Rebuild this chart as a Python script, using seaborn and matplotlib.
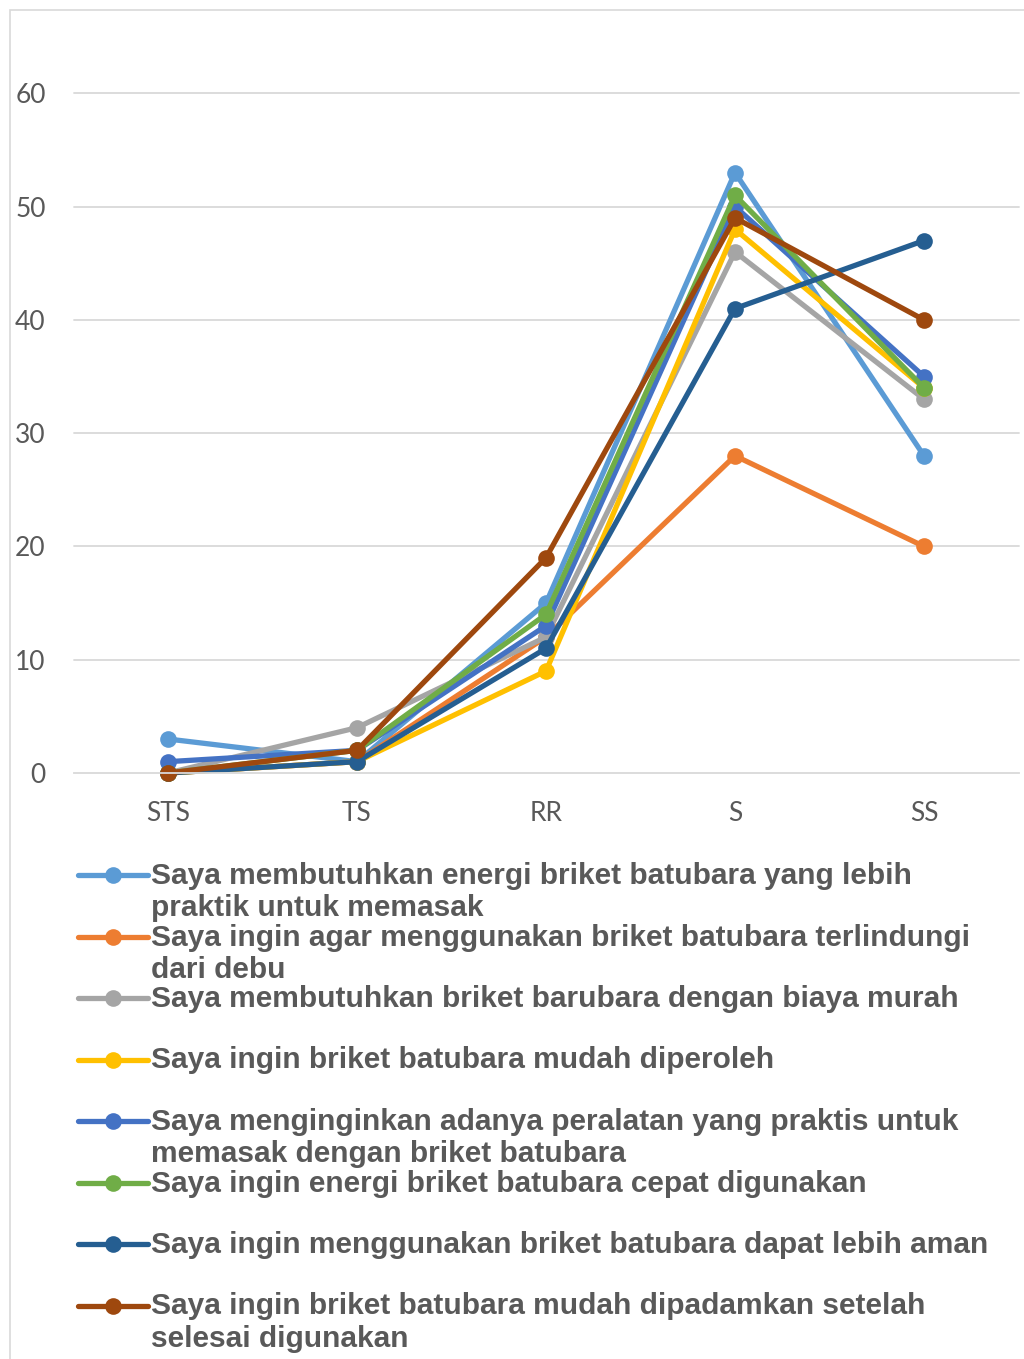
import matplotlib
matplotlib.use("Agg")
import matplotlib.pyplot as plt
import seaborn as sns
import pandas as pd
from matplotlib.lines import Line2D
from matplotlib.patches import Rectangle

# Skala Likert
kategori = ["STS", "TS", "RR", "S", "SS"]

# Pernyataan (label legenda, dengan pemenggalan baris)
pernyataan = [
    "Saya membutuhkan energi briket batubara yang lebih\npraktik untuk memasak",
    "Saya ingin agar menggunakan briket batubara terlindungi\ndari debu",
    "Saya membutuhkan briket barubara dengan biaya murah",
    "Saya ingin briket batubara mudah diperoleh",
    "Saya menginginkan adanya peralatan yang praktis untuk\nmemasak dengan briket batubara",
    "Saya ingin energi briket batubara cepat digunakan",
    "Saya ingin menggunakan briket batubara dapat lebih aman",
    "Saya ingin briket batubara mudah dipadamkan setelah\nselesai digunakan",
]

# Jumlah responden per kategori untuk tiap pernyataan
p1 = [3, 1, 15, 53, 28]
p2 = [0, 1, 12, 28, 20]
p3 = [0, 4, 12, 46, 33]
p4 = [0, 1, 9, 48, 34]
p5 = [1, 2, 13, 50, 35]
p6 = [0, 2, 14, 51, 34]
p7 = [0, 1, 11, 41, 47]
p8 = [0, 2, 19, 49, 40]
nilai = [p1, p2, p3, p4, p5, p6, p7, p8]

warna = ["#5B9BD5", "#ED7D31", "#A5A5A5", "#FFC000",
         "#4472C4", "#70AD47", "#255E91", "#9E480E"]

y_ticks = [0, 10, 20, 30, 40, 50, 60]

rows = []
for label, vals in zip(pernyataan, nilai):
    for k, v in zip(kategori, vals):
        rows.append({"kategori": k, "jumlah": v, "pernyataan": label})
df = pd.DataFrame(rows)

sns.set_theme(style="white")
plt.rcParams["font.family"] = ["Lato", "DejaVu Sans"]

W, H = 1024, 1359
fig = plt.figure(figsize=(W / 100, H / 100), dpi=100)

# Bingkai area grafik
fig.patches.append(Rectangle((10 / W, -0.01), 1.02, (H - 10) / H + 0.01,
                             transform=fig.transFigure, fill=False,
                             edgecolor="#D9D9D9", linewidth=1.2))

ax_left, ax_right = 73.5 / W, 1018.5 / W
ax_bottom = (H - 773) / H
ax_top = (H - 48) / H
ax = fig.add_axes([ax_left, ax_bottom, ax_right - ax_left, ax_top - ax_bottom])

sns.lineplot(data=df, x="kategori", y="jumlah", hue="pernyataan",
             hue_order=pernyataan, palette=warna, marker="o",
             markersize=12, markeredgewidth=0, linewidth=3.8,
             sort=False, legend=False, ax=ax)

ax.set_xlim(-0.5, 4.5)
ax.set_ylim(0, 64)
ax.set_yticks(y_ticks)
ax.set_xlabel("")
ax.set_ylabel("")
for y in y_ticks[1:]:
    ax.axhline(y, color="#D9D9D9", linewidth=1.3, zorder=0)
for s in ["top", "right", "left"]:
    ax.spines[s].set_visible(False)
ax.spines["bottom"].set_color("#D9D9D9")
ax.spines["bottom"].set_linewidth(1.3)
for ln in ax.lines:
    ln.set_clip_on(False)
ax.tick_params(axis="both", length=0, labelsize=19, labelcolor="#595959")
ax.tick_params(axis="y", pad=20)
ax.tick_params(axis="x", pad=20)

# Legenda di bawah grafik
y0 = 875
step = 61.5
for i, (label, c) in enumerate(zip(pernyataan, warna)):
    yc = (H - (y0 + i * step)) / H
    fig.add_artist(Line2D([78 / W, 148 / W], [yc, yc], transform=fig.transFigure,
                          color=c, linewidth=3.8))
    fig.add_artist(Line2D([113 / W], [yc], transform=fig.transFigure,
                          color=c, marker="o", markersize=12, markeredgewidth=0))
    fig.text(151 / W, yc + 13 / H, label, transform=fig.transFigure,
             ha="left", va="top", fontsize=21.5, fontweight="bold",
             color="#595959", family=["Liberation Sans", "DejaVu Sans"],
             linespacing=1.2)

fig.savefig("out.png", dpi=100)
